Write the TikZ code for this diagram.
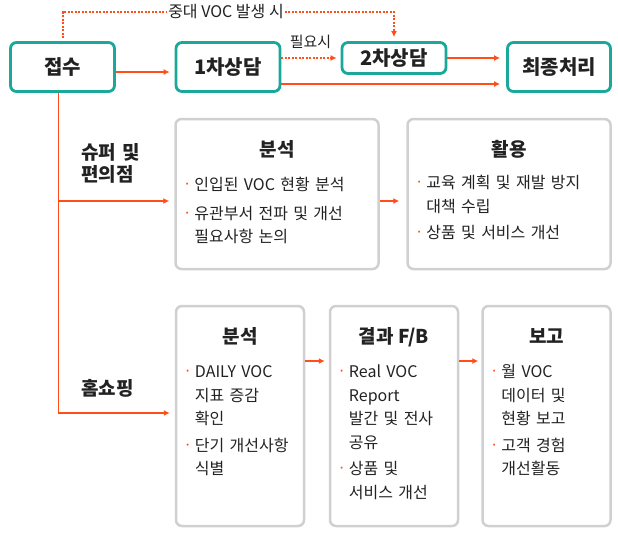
\documentclass[tikz,border=0pt]{standalone}
\usepackage{fontspec}
\setmainfont{Noto Sans CJK KR}
\usetikzlibrary{arrows.meta,positioning}
\definecolor{vocteal}{RGB}{26,168,155}
\definecolor{vocorange}{RGB}{255,78,23}
\definecolor{vocgray}{RGB}{208,208,208}
\definecolor{voctext}{RGB}{34,34,34}
\newcommand\bdot{\leavevmode\llap{\makebox[8.5pt][l]{\raisebox{4pt}{\textcolor{vocorange}{\fontsize{8}{8}\selectfont •}}}}\ignorespaces}

\tikzset{
  stage/.style={draw=vocteal, line width=2.8pt, rounded corners=6pt, fill=white, text=voctext,
    font=\fontsize{20}{24}\selectfont\bfseries, minimum width=104pt, minimum height=49pt},
  panel/.style={draw=vocgray, line width=2.5pt, rounded corners=6pt},
  title/.style={anchor=base, text=voctext, font=\fontsize{19}{22}\selectfont\bfseries, inner sep=0pt},
  bullets/.style={anchor=base west, text=voctext, font=\fontsize{16}{23.5}\selectfont,
    align=left, inner sep=0pt, text width=#1},
  side/.style={anchor=base west, text=voctext, font=\fontsize{19}{22}\selectfont\bfseries,
    align=left, inner sep=0pt, text width=80pt},
  note/.style={text=voctext, font=\fontsize{15}{18}\selectfont, inner sep=1.5pt},
  flow/.style={draw=vocorange, line width=1.8pt, -{Latex[length=6pt,width=6pt]}},
  maybe/.style={flow, dash pattern=on 2pt off 1.5pt, line width=2pt}
}

\begin{document}
\begin{tikzpicture}[x=1pt, y=-1pt]
\useasboundingbox (0,0) rectangle (618,536);

\node[stage] (intake) at (62.5,67) {접수};
\node[stage] (first) at (228,67) {1차상담};
\node[stage, minimum height=31pt] (second) at (394,58) {2차상담};
\node[stage, minimum width=103pt] (final) at (559,67) {최종처리};

\node[panel, minimum width=203pt, minimum height=150pt] (super1) at (277,194) {};
\node[panel, minimum width=203pt, minimum height=150pt] (super2) at (509,194) {};
\node[panel, minimum width=128pt, minimum height=220pt] (home1) at (240,416) {};
\node[panel, minimum width=128pt, minimum height=220pt] (home2) at (394,416) {};
\node[panel, minimum width=128pt, minimum height=220pt] (home3) at (546.5,416) {};

\node[title] (super1t) at ([yshift=-39pt]super1.north) {분석};
\node[title] (super2t) at ([yshift=-39pt]super2.north) {활용};
\node[title] (home1t) at ([yshift=-39pt]home1.north) {분석};
\node[title] (home2t) at ([yshift=-39pt]home2.north) {결과 F/B};
\node[title] (home3t) at ([yshift=-39pt]home3.north) {보고};

\node[bullets=185pt] (super1b) at ([shift={(20pt,-73pt)}]super1.north west)
  {\bdot 인입된 VOC 현황 분석\\[5pt]\bdot 유관부서 전파 및 개선\\ 필요사항 논의};
\node[bullets=185pt] (super2b) at ([shift={(20pt,-71pt)}]super2.north west)
  {\bdot 교육 계획 및 재발 방지\\ 대책 수립\\[3pt]\bdot 상품 및 서비스 개선};
\node[bullets=125pt] (home1b) at ([shift={(20pt,-73pt)}]home1.north west)
  {\bdot DAILY VOC\\ 지표 증감\\ 확인\\[3pt]\bdot 단기 개선사항\\ 식별};
\node[bullets=125pt] (home2b) at ([shift={(20pt,-73pt)}]home2.north west)
  {\bdot Real VOC\\ Report\\ 발간 및 전사\\ 공유\\[3pt]\bdot 상품 및\\ 서비스 개선};
\node[bullets=125pt] (home3b) at ([shift={(20pt,-73pt)}]home3.north west)
  {\bdot 월 VOC\\ 데이터 및\\ 현황 보고\\[3pt]\bdot 고객 경험\\ 개선활동};

\node[side] (superl) at (81,159) {슈퍼 및\\편의점};
\node[side] (homel) at (81,395) {홈쇼핑};

\draw[flow, shorten >=5pt] ([yshift=-5pt]intake.east) -- ([yshift=-5pt]first.west);
\draw[maybe, shorten >=4pt] (first.east |- second.west) -- (second.west);
\node[note] (needed) at (310.5,42) {필요시};
\draw[flow, shorten >=6pt] (second.east) -- (second.east -| final.west);
\draw[flow, shorten >=6pt] ([yshift=-17pt]first.east) -- ([yshift=-17pt]first.east -| final.west);

\coordinate (detour) at (226,12);
\draw[maybe, shorten >=1pt] ([yshift=3pt]intake.north) |- (detour) -| ([yshift=3pt]second.north);
\node[note, fill=white, font=\fontsize{16}{18}\selectfont] (major) at (detour) {중대 VOC 발생 시};

\draw[flow, shorten >=5pt] ([xshift=-4pt]intake.south) |- ([yshift=-7pt]super1.west);
\draw[flow, shorten >=5pt] ([xshift=-4pt]intake.south) |- ([yshift=3pt]home1.west);

\draw[flow, shorten >=7pt] ([yshift=-7pt]super1.east) -- ([yshift=-7pt]super2.west);
\draw[flow, shorten >=4pt] ([yshift=55pt]home1.east) -- ([yshift=55pt]home2.west);
\draw[flow, shorten >=3pt] ([yshift=55pt]home2.east) -- ([yshift=55pt]home3.west);
\end{tikzpicture}
\end{document}
